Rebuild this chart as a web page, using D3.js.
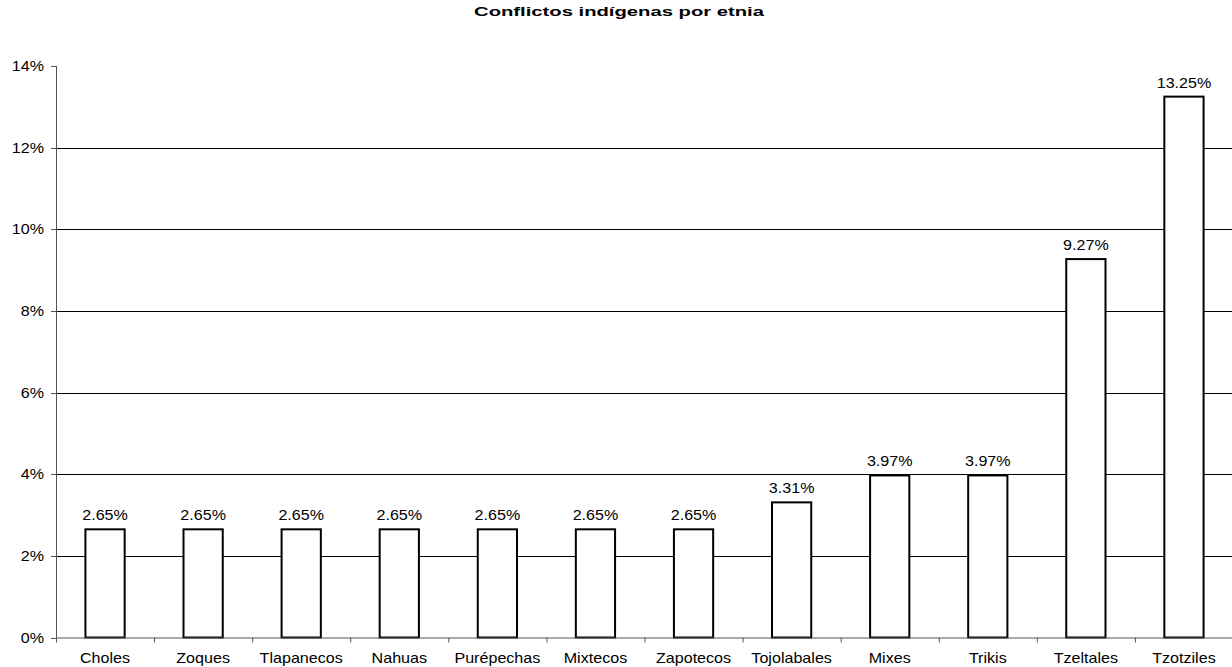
<!DOCTYPE html>
<html><head><meta charset="utf-8">
<script src="https://cdn.jsdelivr.net/npm/d3@7"></script>
<style>body{margin:0;background:#fff;} svg{display:block;}</style>
</head><body>
<svg id="c" width="1232" height="667"></svg>
<script>
const categories = ["Choles","Zoques","Tlapanecos","Nahuas","Purépechas","Mixtecos","Zapotecos","Tojolabales","Mixes","Trikis","Tzeltales","Tzotziles"];
const values = [2.65,2.65,2.65,2.65,2.65,2.65,2.65,3.31,3.97,3.97,9.27,13.25];
const yTicks = [0,2,4,6,8,10,12,14];
const title = "Conflictos indígenas por etnia";

const svg = d3.select("#c");
const L = 56, R = 1233, T = 66, B = 637.5;
const x = d3.scaleBand().domain(categories).range([L, R]).padding(0);
const y = d3.scaleLinear().domain([0, 14]).range([B, T]);
const font = "Liberation Sans, Arial, sans-serif";
const sx = 1.15;

// gridlines
svg.append("g").selectAll("line").data(yTicks.filter(d => d > 0 && d < 14)).join("line")
  .attr("x1", L).attr("x2", R).attr("y1", d => Math.round(y(d)) + 0.5).attr("y2", d => Math.round(y(d)) + 0.5)
  .attr("stroke", "#000").attr("stroke-width", 1);

// y axis
svg.append("line").attr("x1", L + 0.5).attr("x2", L + 0.5).attr("y1", y(14)).attr("y2", B)
  .attr("stroke", "#555").attr("stroke-width", 1);
svg.append("g").selectAll("line").data(yTicks).join("line")
  .attr("x1", L - 5).attr("x2", L).attr("y1", d => Math.round(y(d)) + 0.5).attr("y2", d => Math.round(y(d)) + 0.5)
  .attr("stroke", "#555");
svg.append("g").selectAll("text").data(yTicks).join("text")
  .attr("transform", d => `translate(${L - 12},${y(d) + 5}) scale(${sx},1)`)
  .attr("text-anchor", "end").attr("font-family", font).attr("font-size", 14)
  .text(d => d + "%");

// bars
const bw = x.bandwidth() * 0.4;
svg.append("g").selectAll("rect").data(values).join("rect")
  .attr("x", (d, i) => x(categories[i]) + x.bandwidth() / 2 - bw / 2)
  .attr("y", d => y(d)).attr("width", bw).attr("height", d => B - y(d))
  .attr("fill", "#fff").attr("stroke", "#000").attr("stroke-width", 2);

// x axis
svg.append("line").attr("x1", L).attr("x2", R).attr("y1", B + 0.5).attr("y2", B + 0.5)
  .attr("stroke", "#555").attr("stroke-width", 1);
svg.append("g").selectAll("line").data(categories.concat(["__end"])).join("line")
  .attr("x1", (d, i) => L + i * x.step() + 0.5).attr("x2", (d, i) => L + i * x.step() + 0.5)
  .attr("y1", B).attr("y2", B + 5).attr("stroke", "#555");

// value labels
svg.append("g").selectAll("text").data(values).join("text")
  .attr("transform", (d, i) => `translate(${x(categories[i]) + x.bandwidth() / 2},${y(d) - 9}) scale(${sx},1)`)
  .attr("text-anchor", "middle").attr("font-family", font).attr("font-size", 14)
  .text(d => d.toFixed(2) + "%");

// category labels
svg.append("g").selectAll("text").data(categories).join("text")
  .attr("transform", d => `translate(${x(d) + x.bandwidth() / 2},${663}) scale(${sx},1)`)
  .attr("text-anchor", "middle").attr("font-family", font).attr("font-size", 14)
  .text(d => d);

// title
svg.append("text")
  .attr("transform", `translate(619,16) scale(1.5,1)`)
  .attr("text-anchor", "middle").attr("font-family", font).attr("font-size", 13.5).attr("font-weight", "bold")
  .text(title);
</script>
</body></html>
